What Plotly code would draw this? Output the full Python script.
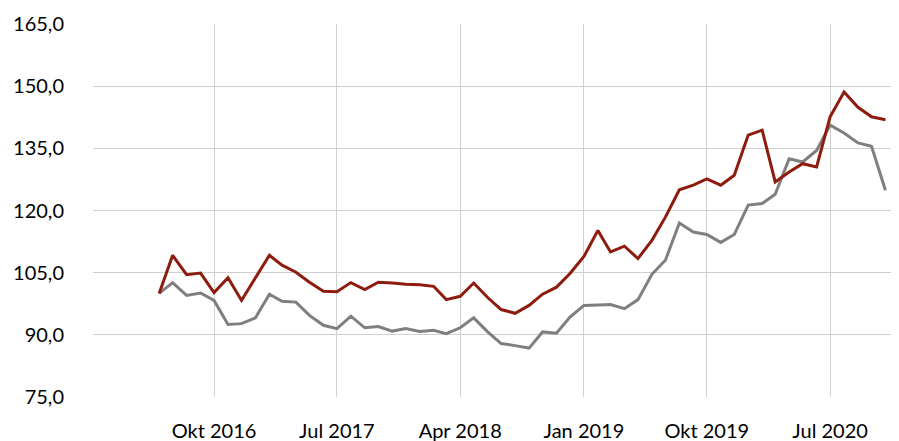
import plotly.graph_objects as go
import pandas as pd

months = [d.strftime("%Y-%m-%d") for d in pd.date_range("2016-06-01", "2020-11-01", freq="MS")]

red_values = [
    100.0, 109.2, 104.5, 104.9, 100.2, 103.8, 98.3, 103.9, 109.2, 106.8, 105.1, 102.7, 100.5,  # Jun16-Jun17
    100.4, 102.6, 100.9, 102.7, 102.5, 102.2, 102.1, 101.7, 98.5, 99.3, 102.5, 99.0, 96.1,   # Jul17-Jul18
    95.2, 97.1, 99.8, 101.5, 104.8, 108.9, 115.2, 110.0, 111.4, 108.4, 112.8, 118.4, 125.0,  # Aug18-Aug19
    126.1, 127.6, 126.1, 128.5, 138.2, 139.4, 126.9, 129.3, 131.3, 130.5, 142.6, 148.6, 144.9,  # Sep19-Sep20
    142.6, 141.9,  # Oct20-Nov20
]

gray_values = [
    100.0, 102.6, 99.5, 100.1, 98.3, 92.5, 92.7, 94.1, 99.8, 98.1, 97.9, 94.7, 92.3,
    91.5, 94.5, 91.7, 92.0, 90.9, 91.5, 90.8, 91.1, 90.3, 91.7, 94.1, 90.7, 87.9,
    87.4, 86.8, 90.7, 90.4, 94.3, 97.1, 97.2, 97.3, 96.3, 98.5, 104.6, 108.0, 117.0,
    114.8, 114.2, 112.3, 114.2, 121.3, 121.7, 123.9, 132.5, 131.7, 134.5, 140.6, 138.7, 136.3,
    135.5, 124.9,
]

tick_vals = ["2016-10-01", "2017-07-01", "2018-04-01", "2019-01-01", "2019-10-01", "2020-07-01"]
tick_text = ["Okt 2016", "Jul 2017", "Apr 2018", "Jan 2019", "Okt 2019", "Jul 2020"]
y_ticks = [75, 90, 105, 120, 135, 150, 165]

fig = go.Figure()
fig.add_trace(go.Scatter(x=months, y=gray_values, mode="lines",
                         line=dict(color="#7F7F7F", width=3), showlegend=False))
fig.add_trace(go.Scatter(x=months, y=red_values, mode="lines",
                         line=dict(color="#8E1C0E", width=3), showlegend=False))

# page body has an 8px default margin, so the figure is sized to fit inside the window
fig.update_layout(
    width=891, height=433,
    margin=dict(l=85, r=5, t=16, b=44),
    paper_bgcolor="white", plot_bgcolor="white",
    separators=",.",
    font=dict(family="Lato", size=20, color="#000000"),
    xaxis=dict(
        type="date",
        range=["2016-01-06", "2020-11-20"],
        tickvals=tick_vals, ticktext=tick_text,
        showgrid=True, gridcolor="#D0D0D0", gridwidth=1,
        showline=False, zeroline=False, ticks="",
        ticklabelstandoff=20, automargin=False,
    ),
    yaxis=dict(
        range=[75, 165],
        tickvals=y_ticks, tickformat=".1f",
        showgrid=True, gridcolor="#D0D0D0", gridwidth=1,
        showline=False, zeroline=False, ticks="",
        ticklabelstandoff=28, automargin=False,
    ),
)

fig.write_html("out.html")
